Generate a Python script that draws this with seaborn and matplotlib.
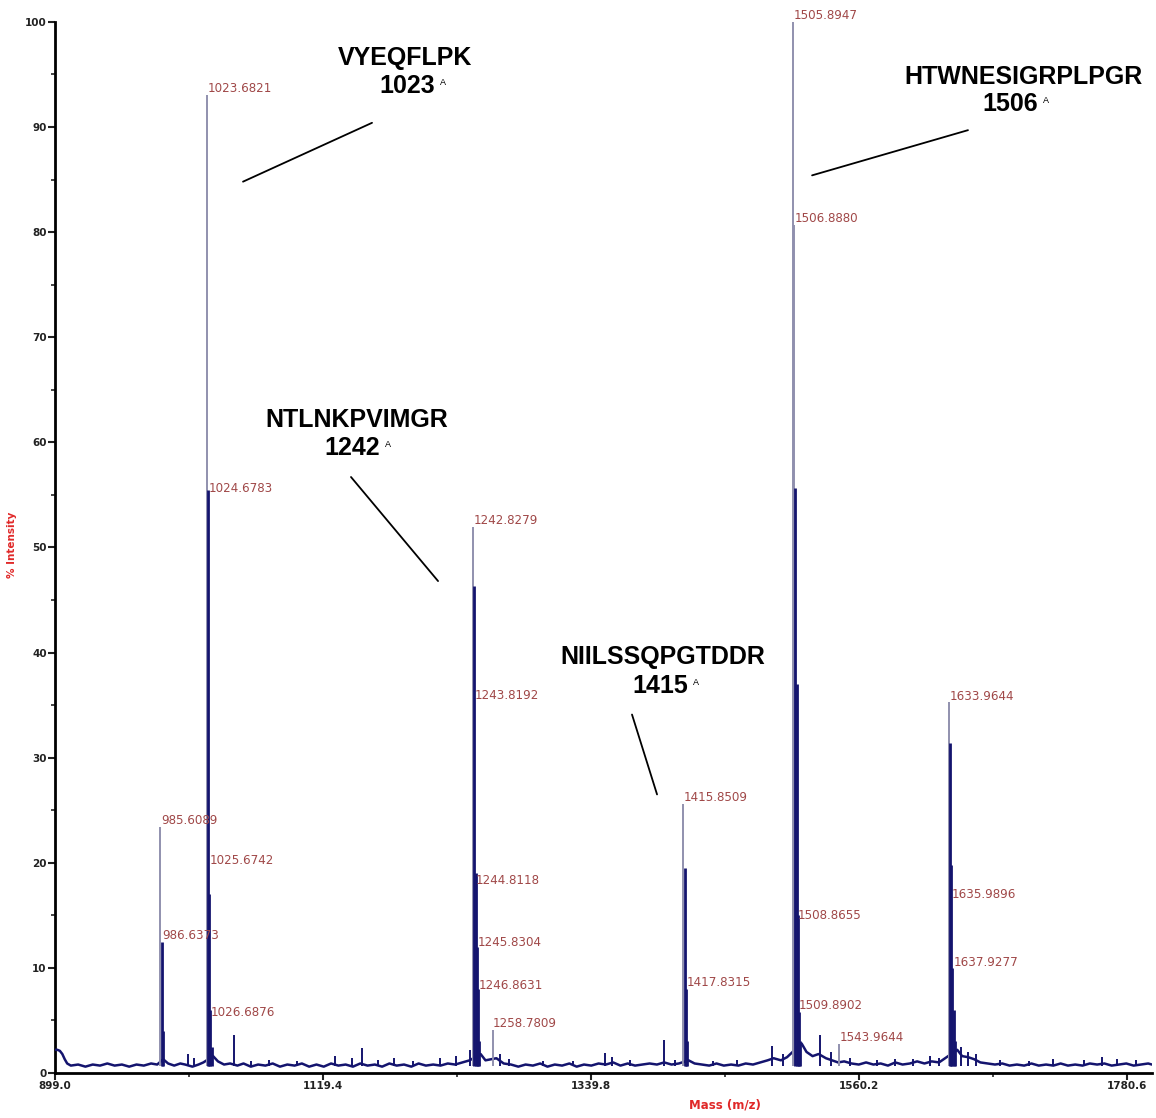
import numpy as np
import pandas as pd
import matplotlib
matplotlib.use("Agg")
import matplotlib.pyplot as plt
import seaborn as sns

# main isotope peaks (m/z, % intensity)
peak_mz = [985.61, 986.64, 987.62,
           1023.68, 1024.68, 1025.67, 1026.69, 1027.70,
           1242.83, 1243.82, 1244.81, 1245.83, 1246.86, 1247.88,
           1258.78,
           1415.85, 1416.85, 1417.83, 1418.84,
           1505.89, 1506.89, 1507.89, 1508.87, 1509.89, 1510.90, 1511.90,
           1543.96,
           1633.96, 1634.97, 1635.99, 1636.95, 1637.93, 1638.92]
peak_int = [23.4, 12.5, 4.0,
            93.0, 55.5, 17.0, 6.0, 2.5,
            51.9, 46.3, 19.0, 12.0, 8.0, 3.0,
            4.1,
            25.6, 19.5, 8.0, 3.0,
            100.0, 80.7, 55.7, 37.0, 15.0, 5.8, 3.0,
            2.8,
            35.3, 31.4, 19.8, 10.0, 6.0, 3.0]

# labelled masses and where their labels sit
label_mz = [985.6089, 986.6373, 1023.6821, 1024.6783, 1025.6742, 1026.6876,
            1242.8279, 1243.8192, 1244.8118, 1245.8304, 1246.8631, 1258.7809,
            1415.8509, 1417.8315, 1505.8947, 1506.8880, 1508.8655, 1509.8902,
            1543.9644, 1633.9644, 1635.9896, 1637.9277]
label_y = [23.4, 12.5, 93.0, 55.0, 19.6, 5.1,
           51.9, 35.3, 17.7, 11.8, 7.7, 4.1,
           25.6, 8.0, 100.0, 80.7, 14.4, 5.8,
           2.8, 35.2, 16.4, 9.9]

# small noise spikes
noise_mz = [1008, 1013, 1046, 1060, 1075, 1098, 1129, 1143, 1151.5, 1165,
            1178, 1193, 1216, 1229, 1240.5, 1265, 1272, 1300, 1325, 1351,
            1357, 1372, 1399.8, 1409, 1440, 1460, 1488.7, 1498, 1528, 1537,
            1553, 1575, 1590, 1605, 1618.5, 1626, 1644, 1650, 1656, 1676,
            1700, 1720, 1745, 1760, 1772, 1788]
noise_int = [1.8, 1.4, 3.6, 1.1, 1.2, 1.1, 1.6, 1.4, 2.4, 1.2,
             1.4, 1.1, 1.4, 1.6, 2.2, 1.8, 1.3, 1.1, 1.1, 1.9,
             1.5, 1.2, 3.1, 1.2, 1.1, 1.2, 2.6, 1.8, 3.6, 2.0,
             1.4, 1.2, 1.3, 1.3, 1.6, 1.4, 2.5, 2.0, 1.8, 1.2,
             1.1, 1.3, 1.2, 1.5, 1.3, 1.2]

# baseline trace
base_mz = [899, 901, 903, 905, 907, 909, 912, 918, 924, 930, 936, 942, 948,
           954, 960, 966, 972, 978, 983, 988, 992, 997, 1002, 1006, 1012,
           1017, 1021, 1029, 1033, 1038, 1043, 1049, 1054, 1060, 1066, 1072,
           1078, 1084, 1090, 1096, 1102, 1108, 1114, 1120, 1126, 1132, 1138,
           1144, 1150, 1156, 1162, 1168, 1174, 1180, 1186, 1192, 1198, 1204,
           1210, 1216, 1222, 1228, 1234, 1240, 1249, 1253, 1262, 1268, 1274,
           1280, 1286, 1292, 1298, 1304, 1310, 1316, 1322, 1328, 1334, 1340,
           1346, 1352, 1358, 1364, 1370, 1376, 1382, 1388, 1394, 1400, 1406,
           1412, 1420, 1425, 1431, 1437, 1443, 1449, 1455, 1461, 1467, 1473,
           1479, 1485, 1490, 1496, 1501, 1513, 1517, 1522, 1527, 1533, 1538,
           1543, 1548, 1554, 1560, 1566, 1572, 1578, 1584, 1590, 1596, 1602,
           1608, 1614, 1620, 1626, 1631, 1641, 1645, 1650, 1655, 1660, 1666,
           1672, 1678, 1684, 1690, 1696, 1702, 1708, 1714, 1720, 1726, 1732,
           1738, 1744, 1750, 1756, 1762, 1768, 1774, 1780, 1786, 1792, 1798,
           1801]
base_int = [2.2, 2.2, 2.1, 1.8, 1.3, 0.9, 0.7, 0.8, 0.6, 0.8, 0.7, 0.9, 0.7,
            0.8, 0.6, 0.8, 0.7, 0.9, 0.8, 1.3, 0.9, 0.7, 0.9, 0.8, 0.6,
            0.8, 1.0, 1.6, 1.1, 0.8, 0.9, 0.7, 0.9, 0.6, 0.8, 0.7,
            0.9, 0.6, 0.8, 0.7, 0.9, 0.6, 0.8, 0.6, 0.9, 0.7, 0.8,
            0.6, 0.9, 0.7, 0.8, 0.6, 0.9, 0.7, 0.8, 0.6, 0.9, 0.7,
            0.8, 0.7, 0.9, 0.8, 1.0, 1.2, 1.8, 1.2, 1.4, 0.9, 0.8,
            0.6, 0.8, 0.7, 0.9, 0.6, 0.8, 0.7, 0.9, 0.6, 0.8, 0.7,
            0.9, 0.8, 1.0, 0.7, 0.9, 0.7, 0.8, 0.9, 0.8, 1.0, 0.8,
            0.9, 1.2, 0.9, 0.8, 0.7, 0.9, 0.7, 0.8, 0.7, 0.9, 0.8,
            1.0, 1.2, 1.4, 1.2, 1.5, 2.8, 2.0, 1.6, 1.8, 1.4, 1.2,
            1.0, 1.1, 0.9, 0.8, 1.0, 0.8, 0.9, 0.7, 1.0, 0.8, 0.9,
            1.1, 0.9, 1.1, 1.0, 1.4, 2.2, 1.6, 1.5, 1.3, 1.0, 0.9,
            0.8, 0.9, 0.7, 0.8, 0.7, 0.9, 0.7, 0.8, 0.7, 0.9, 0.7,
            0.8, 0.7, 0.9, 0.8, 0.9, 0.7, 0.8, 0.9, 0.7, 0.8, 0.9,
            0.8]

# peptide annotations: name, mass tag, text anchor, leader line
pep_names = ["VYEQFLPK", "NTLNKPVIMGR", "NIILSSQPGTDDR", "HTWNESIGRPLPGR"]
pep_tags = ["1023", "1242", "1415", "1506"]
pep_name_xy = [(1186.8, 96.6), (1147.4, 62.1), (1399.0, 39.6), (1695.1, 94.8)]
pep_tag_xy = [(1189.0, 93.9), (1143.7, 59.5), (1397.0, 36.8), (1684.9, 92.2)]
pep_lines = [((1053.6, 1159.7), (84.8, 90.4)),
             ((1142.4, 1214.0), (56.7, 46.8)),
             ((1373.5, 1394.1), (34.1, 26.5)),
             ((1521.6, 1649.8), (85.4, 89.7))]

xticks = [899.0, 1119.4, 1339.8, 1560.2, 1780.6]

NAVY = "#14146e"
GREY = "#9090ae"
LABEL_RED = "#a04848"


def main():
    sns.set_style("ticks")
    plt.rcParams["font.family"] = ["DejaVu Sans"]

    fig = plt.figure(figsize=(11.56, 11.18), dpi=100)
    ax = fig.add_axes([0.0476, 0.0403, 0.9490, 0.9401])

    base = pd.DataFrame({"mz": base_mz, "intensity": base_int})
    sns.lineplot(data=base, x="mz", y="intensity", ax=ax, color=NAVY,
                 lw=1.8, zorder=3)

    ax.vlines(noise_mz, 0.7, noise_int, color=NAVY, lw=1.4, zorder=3)

    # group isotope peaks into clusters; the cluster top is drawn grey
    mz = np.array(peak_mz)
    it = np.array(peak_int)
    groups = np.cumsum(np.r_[0, np.diff(mz) > 3])
    for g in np.unique(groups):
        m = mz[groups == g]
        h = it[groups == g]
        top = np.argmax(h)
        grey = (np.arange(len(h)) == top) | (h > 60)
        ax.vlines(m[grey], 0.7, h[grey], color=GREY, lw=1.4, zorder=4)
        ax.vlines(m[~grey], 0.7, h[~grey], color=NAVY, lw=2.0, zorder=5)

    for x, y in zip(label_mz, label_y):
        ax.text(x + 0.5, y, f"{x:.4f}", color=LABEL_RED, fontsize=8.6,
                ha="left", va="bottom", zorder=6)

    for name, tag, nxy, txy, (lx, ly) in zip(pep_names, pep_tags, pep_name_xy,
                                             pep_tag_xy, pep_lines):
        ax.text(*nxy, name, fontsize=18, fontweight="bold", color="black",
                family="Liberation Sans", ha="center", va="center")
        t = ax.text(*txy, tag, fontsize=18, fontweight="bold", color="black",
                    family="Liberation Sans", ha="center", va="center")
        # tiny superscript mark after the mass
        ax.annotate("A", xy=(1, 1), xycoords=t, xytext=(3, -3),
                    textcoords="offset points", fontsize=6.5, color="black",
                    family="Liberation Sans", ha="left", va="top")
        ax.plot(lx, ly, color="black", lw=1.3)

    ax.set_xlim(899.0, 1801.2)
    ax.set_ylim(0, 100)
    ax.set_xticks(xticks)
    ax.set_xticklabels([f"{t:.1f}" for t in xticks])
    ax.set_xticks([(a + b) / 2 for a, b in zip(xticks[:-1], xticks[1:])],
                  minor=True)
    ax.set_yticks(range(0, 101, 10))
    ax.set_yticks(range(5, 100, 10), minor=True)
    ax.tick_params(axis="both", which="major", length=5, width=1.5,
                   labelsize=7.5, colors="#222222", pad=1)
    ax.tick_params(axis="both", which="minor", length=3, width=1.2)
    for lab in ax.get_xticklabels() + ax.get_yticklabels():
        lab.set_fontweight("bold")
    ax.set_xlabel("")
    ax.set_ylabel("")
    sns.despine(ax=ax)
    for s in ("left", "bottom"):
        ax.spines[s].set_linewidth(2)
        ax.spines[s].set_color("black")

    fig.text(725 / 1156, 1 - 1105 / 1118, "Mass (m/z)", color="#e02828",
             fontsize=8.5, fontweight="bold", ha="center", va="center")
    fig.text(12 / 1156, 1 - 545 / 1118, "% Intensity", color="#e02828",
             fontsize=7.5, fontweight="bold", ha="center", va="center",
             rotation=90)

    fig.savefig("out.png", dpi=100)


if __name__ == "__main__":
    main()
